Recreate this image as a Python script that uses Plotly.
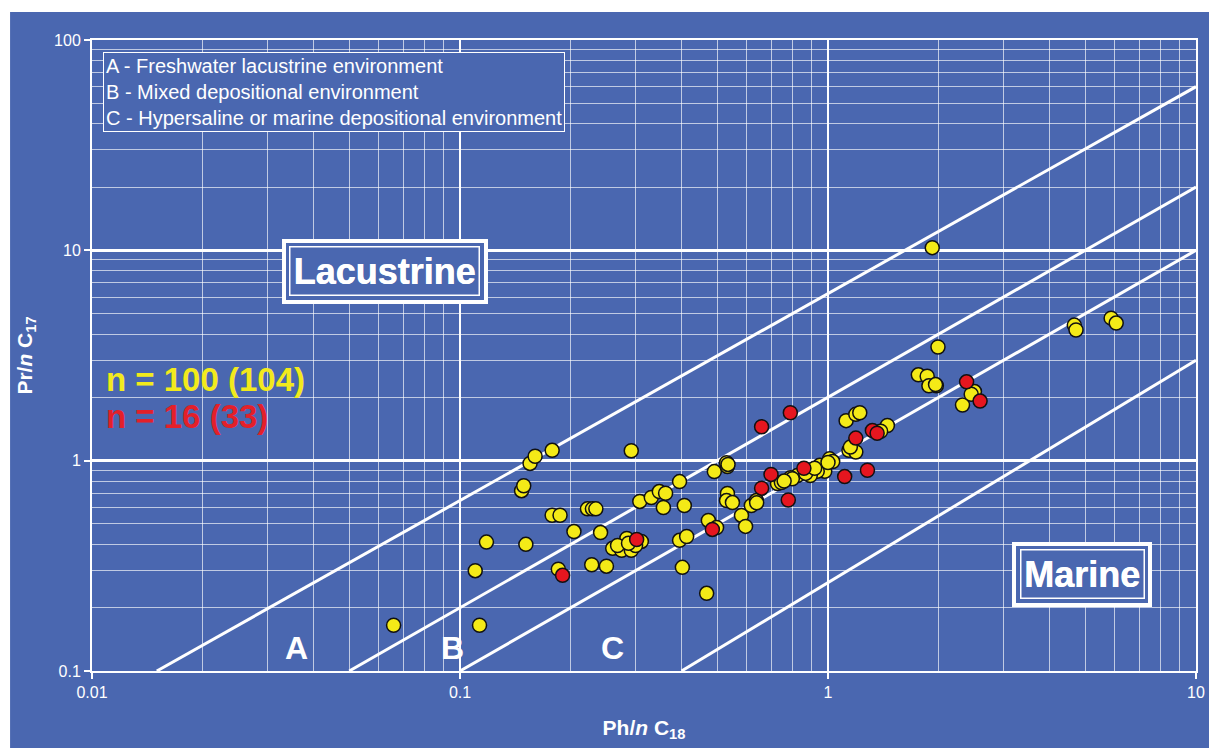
import plotly.graph_objects as go

# ---------------- data ----------------
# yellow samples (Ph/nC18, Pr/nC17)
yellow_x = [0.066, 0.113, 0.110, 0.118, 0.151, 0.147, 0.149, 0.155, 0.160, 0.178,
            0.178, 0.187, 0.185, 0.204, 0.222, 0.229, 0.234, 0.228, 0.241, 0.250,
            0.260, 0.275, 0.284, 0.292, 0.311, 0.292, 0.308, 0.331, 0.348, 0.362,
            0.357, 0.395, 0.407, 0.491, 0.533, 0.530, 0.533, 0.530, 0.550, 0.473,
            0.498, 0.395, 0.413, 0.402, 0.468, 0.582, 0.597, 0.619, 0.639, 0.729,
            1.12, 1.19, 1.22, 1.45, 1.14, 1.19, 1.15, 1.01, 1.03, 0.95,
            0.98, 0.935, 0.895, 0.826, 0.791, 0.747, 1.92, 1.99, 1.76, 1.86,
            1.97, 1.88, 2.47, 2.50, 2.32, 4.67, 4.72, 5.88, 6.07, 0.268,
            0.300, 0.287, 0.87, 0.92, 1.00, 1.39, 0.535, 0.64, 1.96, 2.45,
            0.80, 0.76]
yellow_y = [0.165, 0.165, 0.30, 0.41, 0.40, 0.72, 0.76, 0.97, 1.05, 1.12,
            0.55, 0.55, 0.305, 0.46, 0.59, 0.59, 0.59, 0.32, 0.455, 0.315,
            0.383, 0.375, 0.427, 0.375, 0.413, 1.115, 0.64, 0.668, 0.713, 0.70,
            0.599, 0.795, 0.612, 0.887, 0.937, 0.978, 0.698, 0.646, 0.632, 0.52,
            0.481, 0.418, 0.436, 0.311, 0.234, 0.549, 0.487, 0.612, 0.646, 0.778,
            1.55, 1.66, 1.69, 1.47, 1.12, 1.10, 1.16, 1.02, 0.99, 0.95,
            0.89, 0.89, 0.85, 0.85, 0.83, 0.787, 10.3, 3.47, 2.56, 2.52,
            2.27, 2.27, 2.10, 2.13, 1.84, 4.41, 4.18, 4.76, 4.51, 0.395,
            0.395, 0.405, 0.87, 0.92, 0.98, 1.38, 0.96, 0.63, 2.30, 2.07,
            0.82, 0.80]

# red samples
red_x = [0.19, 0.302, 0.485, 0.66, 0.79, 1.32, 1.36, 1.19, 0.86, 0.70,
         0.66, 0.78, 1.11, 1.28, 2.38, 2.59]
red_y = [0.285, 0.422, 0.471, 1.45, 1.69, 1.39, 1.35, 1.28, 0.92, 0.86,
         0.74, 0.65, 0.84, 0.90, 2.37, 1.92]

# environment boundary lines (start / end points)
line_x0 = [0.015, 0.05, 0.1, 0.4]
line_y0 = [0.1, 0.1, 0.1, 0.1]
line_x1 = [10, 10, 10, 10]
line_y1 = [60, 20, 10, 3]

x_tickvals = [0.01, 0.1, 1, 10]
x_ticktext = ["0.01", "0.1", "1", "10"]
y_tickvals = [0.1, 1, 10, 100]
y_ticktext = ["0.1", "1", "10", "100"]

legend_lines = ["A - Freshwater lacustrine environment",
                "B - Mixed depositional environment",
                "C - Hypersaline or marine depositional environment"]
zone_letters = ["A", "B", "C"]

# ---------------- style ----------------
BLUE = "#4A67B0"
YELLOW = "#F4EA17"
RED = "#E5161F"
FONT = "Arial, Liberation Sans, sans-serif"

fig = go.Figure()

for xs, ys, xe, ye in zip(line_x0, line_y0, line_x1, line_y1):
    fig.add_trace(go.Scatter(x=[xs, xe], y=[ys, ye], mode="lines",
                             line=dict(color="white", width=3),
                             hoverinfo="skip", showlegend=False))

fig.add_trace(go.Scatter(x=yellow_x, y=yellow_y, mode="markers",
                         marker=dict(size=14, color=YELLOW,
                                     line=dict(color="#111111", width=1.5)),
                         showlegend=False))
fig.add_trace(go.Scatter(x=red_x, y=red_y, mode="markers",
                         marker=dict(size=14, color=RED,
                                     line=dict(color="#111111", width=1.5)),
                         showlegend=False))

axis_common = dict(
    type="log",
    showgrid=True, gridcolor="white",
    showline=True, linecolor="white", linewidth=2, mirror=True,
    ticks="outside", tickcolor="white", ticklen=6, tickwidth=1.5,
    tickfont=dict(family=FONT, size=16, color="white"),
    zeroline=False,
    minor=dict(showgrid=True, dtick="D1", gridcolor="rgba(255,255,255,0.65)",
               gridwidth=1, ticks=""),
)

fig.update_xaxes(**axis_common, range=[-2, 1], tickvals=x_tickvals,
                 ticktext=x_ticktext, gridwidth=1.5,
                 title=dict(text="<b>Ph/<i>n</i> C<sub>18</sub></b>",
                            font=dict(family=FONT, size=21, color="white"),
                            standoff=20))
fig.update_yaxes(**axis_common, range=[-1, 2], tickvals=y_tickvals,
                 ticktext=y_ticktext, gridwidth=2.5,
                 title=dict(text="<b>Pr/<i>n</i> C<sub>17</sub></b>",
                            font=dict(family=FONT, size=21, color="white"),
                            standoff=16))

# page is offset by the 8px body margin
OFF = 8
W, H = 1217 - OFF, 748 - OFF
L, R, T, B = 84, 20, 32, 75
pw, ph = W - L - R, H - T - B


def px(xp):
    return (xp - OFF - L) / pw


def py(yp):
    return (H + OFF - B - yp) / ph


fig.add_shape(type="rect", xref="paper", yref="paper",
              x0=px(10), x1=px(1230), y0=py(760), y1=py(12),
              fillcolor=BLUE, line=dict(width=0), layer="below")

annotations = []
annotations.append(dict(
    xref="paper", yref="paper", x=px(103), y=py(52), xanchor="left", yanchor="top",
    text="<br>".join(legend_lines), align="left", showarrow=False,
    font=dict(family=FONT, size=20, color="white"),
    bgcolor=BLUE, bordercolor="white", borderwidth=1, borderpad=2))

for label, cx, cy in [("Lacustrine", 385, 272), ("Marine", 1083, 576)]:
    annotations.append(dict(
        xref="paper", yref="paper", x=px(cx), y=py(cy), showarrow=False,
        xanchor="center", yanchor="middle",
        text="<b>%s</b>" % label, font=dict(family=FONT, size=36, color="white"),
        bgcolor=BLUE, bordercolor="white", borderwidth=4, borderpad=8))
    annotations.append(dict(
        xref="paper", yref="paper", x=px(cx), y=py(cy), showarrow=False,
        xanchor="center", yanchor="middle",
        text="<b>%s</b>" % label, font=dict(family=FONT, size=36, color="white"),
        bordercolor="white", borderwidth=1.5, borderpad=3))

annotations.append(dict(
    xref="paper", yref="paper", x=px(104), y=py(381), xanchor="left",
    yanchor="middle",
    text="<b>n = 100 (104)</b>", showarrow=False,
    font=dict(family=FONT, size=33, color="#F2EA1C")))
annotations.append(dict(
    xref="paper", yref="paper", x=px(104), y=py(418), xanchor="left",
    yanchor="middle",
    text="<b>n = 16 (33)</b>", showarrow=False,
    font=dict(family=FONT, size=33, color="#E3202A")))

for letter, cx in zip(zone_letters, [297, 453, 613]):
    annotations.append(dict(
        xref="paper", yref="paper", x=px(cx), y=py(650), showarrow=False,
        xanchor="center", yanchor="middle",
        text="<b>%s</b>" % letter, font=dict(family=FONT, size=32, color="white")))

fig.update_layout(
    width=W, height=H,
    margin=dict(l=L, r=R, t=T, b=B),
    paper_bgcolor="white", plot_bgcolor="rgba(0,0,0,0)",
    annotations=annotations,
    showlegend=False,
    font=dict(family=FONT, color="white"),
)

fig.write_html("out.html")
